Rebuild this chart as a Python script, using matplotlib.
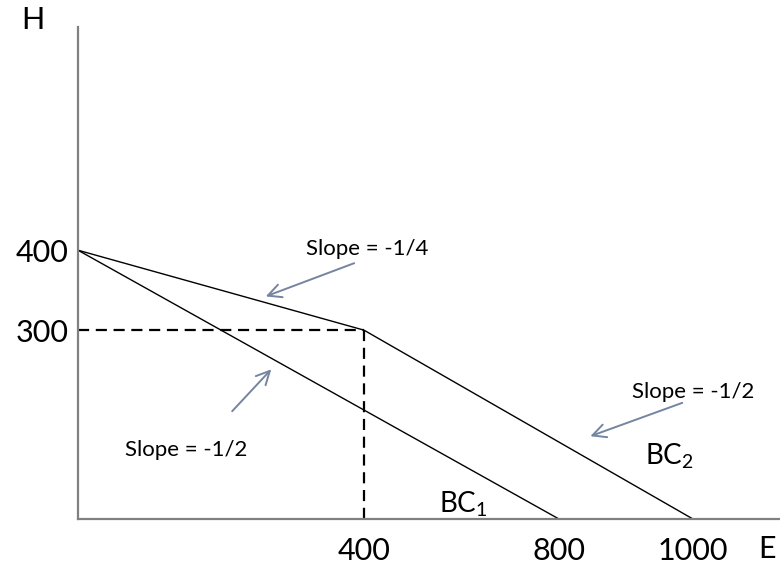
import numpy as np
import matplotlib
matplotlib.use("Agg")
import matplotlib.pyplot as plt

plt.rcParams['font.family'] = ['Lato', 'DejaVu Sans']

# -------- DATA --------
bc1_e = [0, 800]
bc1_h = [400, 0]
bc2_e = [0, 400, 1000]
bc2_h = [400, 300, 0]
kink_e, kink_h = 400, 300
x_ticks = [400, 800, 1000]
x_labels = ["400", "800", "1000"]
y_ticks = [300, 400]
y_labels = ["300", "400"]

# schematic axes: not drawn to scale, so stretch each stretch of the axis
x_knots = [0, 400, 800, 1000, 1200]
x_pos = [0, 286, 481, 615, 749]
y_knots = [0, 300, 400, 700]
y_pos = [0, 189, 269, 509]

def fx(v): return np.interp(v, x_knots, x_pos)
def ix(v): return np.interp(v, x_pos, x_knots)
def fy(v): return np.interp(v, y_knots, y_pos)
def iy(v): return np.interp(v, y_pos, y_knots)

# -------- PLOT --------
fig = plt.figure(figsize=(7.8, 5.64), dpi=100)
ax = fig.add_axes([0.1, 0.0798, 0.9, 0.872])
ax.set_xscale('function', functions=(fx, ix))
ax.set_yscale('function', functions=(fy, iy))
ax.set_xlim(0, 1130)
ax.set_ylim(0, 679)

for s in ['top', 'right']:
    ax.spines[s].set_visible(False)
for s in ['left', 'bottom']:
    ax.spines[s].set_color('#808080')
    ax.spines[s].set_linewidth(1.6)

ax.plot(bc1_e, bc1_h, color='black', lw=1.0, clip_on=False)
ax.plot(bc2_e, bc2_h, color='black', lw=1.0, clip_on=False)

# dashed guides
ax.plot([0, kink_e], [kink_h, kink_h], color='black', lw=1.6,
        ls=(0, (5, 3)), clip_on=False)
ax.plot([kink_e, kink_e], [kink_h, 0], color='black', lw=1.6,
        ls=(0, (5, 3)), clip_on=False)

ax.set_xticks(x_ticks)
ax.set_xticklabels(x_labels, fontsize=22)
ax.set_yticks(y_ticks)
ax.set_yticklabels(y_labels, fontsize=22)
ax.tick_params(axis='x', length=0, pad=13)
ax.tick_params(axis='y', length=0, pad=7)

# axis names
fig.text(0.0423, 0.9645, "H", fontsize=22, ha='center', va='center')
fig.text(0.983, 0.0265, "E", fontsize=22, ha='center', va='center')

# slope notes
arrow = dict(arrowstyle='->', color='#7584a0', lw=1.4, mutation_scale=24)
ax.text(406, 402, "Slope = -1/4", fontsize=16, ha='center', va='center')
ax.annotate("", xy=(259, 341), xytext=(390, 385), arrowprops=arrow)

ax.text(151, 110, "Slope = -1/2", fontsize=16, ha='center', va='center')
ax.annotate("", xy=(273, 241), xytext=(213, 168), arrowprops=arrow)

ax.text(1000, 202, "Slope = -1/2", fontsize=16, ha='center', va='center')
ax.annotate("", xy=(843, 130), xytext=(988, 186), arrowprops=arrow)

ax.text(554, 11, r"BC$\mathregular{_1}$", fontsize=20, ha='left', va='baseline')
ax.text(928, 86, r"BC$\mathregular{_2}$", fontsize=20, ha='left', va='baseline')

fig.savefig("out.png", dpi=100)
